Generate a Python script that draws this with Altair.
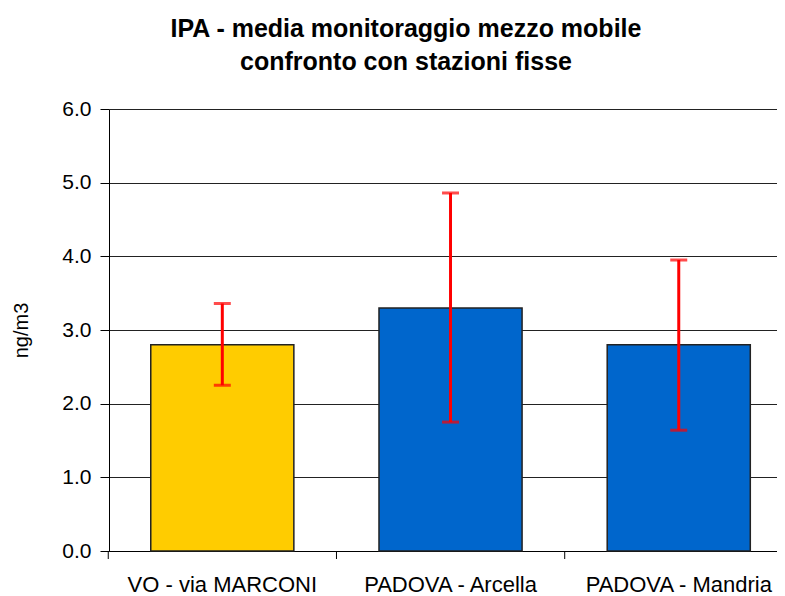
import altair as alt
import pandas as pd

categories = ["VO - via MARCONI", "PADOVA - Arcella", "PADOVA - Mandria"]
means = [2.8, 3.3, 2.8]
err_low = [2.25, 1.75, 1.64]
err_high = [3.36, 4.86, 3.95]
colors = ["#FFCC00", "#0066CC", "#0066CC"]

df = pd.DataFrame({
    "cat": categories,
    "mean": means,
    "lo": err_low,
    "hi": err_high,
    "color": colors,
})

W, H = 668, 442
FONT = "Liberation Sans"
P_INNER = 0.373

xscale = alt.Scale(domain=categories, paddingInner=P_INNER, paddingOuter=0.15, align=0.61)
yscale = alt.Scale(domain=[0, 6], nice=False)

bars = alt.Chart(df).mark_bar(stroke="#222222", strokeWidth=1.5).encode(
    x=alt.X("cat:N", scale=xscale, sort=categories, title=None),
    y=alt.Y("mean:Q", scale=yscale, title="ng/m3",
            axis=alt.Axis(values=[0, 1, 2, 3, 4, 5, 6], format=".1f")),
    color=alt.Color("color:N", scale=None),
)

rules = alt.Chart(df).mark_rule(color="#FF0000", strokeWidth=3).encode(
    x=alt.X("cat:N", scale=xscale, sort=categories, title=None),
    y=alt.Y("lo:Q", scale=yscale, title="ng/m3"),
    y2="hi:Q",
)

caps_hi = alt.Chart(df).mark_tick(color="#FF0000", thickness=3, size=17, orient="horizontal").encode(
    x=alt.X("cat:N", scale=xscale, sort=categories, title=None),
    y=alt.Y("hi:Q", scale=yscale, title="ng/m3"),
)
caps_lo = alt.Chart(df).mark_tick(color="#FF0000", thickness=3, size=17, orient="horizontal").encode(
    x=alt.X("cat:N", scale=xscale, sort=categories, title=None),
    y=alt.Y("lo:Q", scale=yscale, title="ng/m3"),
)

# category boundary ticks: half the inner gap before each band
xticks = alt.Chart(df).mark_rule(color="black", strokeWidth=1, xOffset=-42.5).encode(
    x=alt.X("cat:N", scale=xscale, sort=categories, bandPosition=0, title=None),
    y=alt.value(H),
    y2=alt.value(H + 8),
)

chart = alt.layer(bars, rules, caps_hi, caps_lo, xticks).properties(
    width=W,
    height=H,
    title=alt.TitleParams(
        ["IPA - media monitoraggio mezzo mobile", "confronto con stazioni fisse"],
        fontSize=25, font=FONT, fontWeight="bold", color="black",
        anchor="middle", dx=-37, lineHeight=33, offset=23,
    ),
    autosize=alt.AutoSizeParams(type="none"),
    padding={"left": 101, "top": 101, "right": 0, "bottom": 45},
).configure_view(stroke=None).configure_axis(
    labelFont=FONT, labelColor="black",
    titleFont=FONT, titleFontWeight="normal", titleColor="black",
    domainColor="black",
).configure_axisX(
    labelAngle=0, ticks=False, labelPadding=23, labelLimit=300, grid=False, labelFontSize=22,
).configure_axisY(
    tickColor="black", tickSize=9, gridColor="#222222", gridOpacity=1,
    titlePadding=30, labelPadding=9, labelFontSize=21, titleFontSize=20,
)

chart.save("out.html", embed_options={"renderer": "svg", "actions": False})
